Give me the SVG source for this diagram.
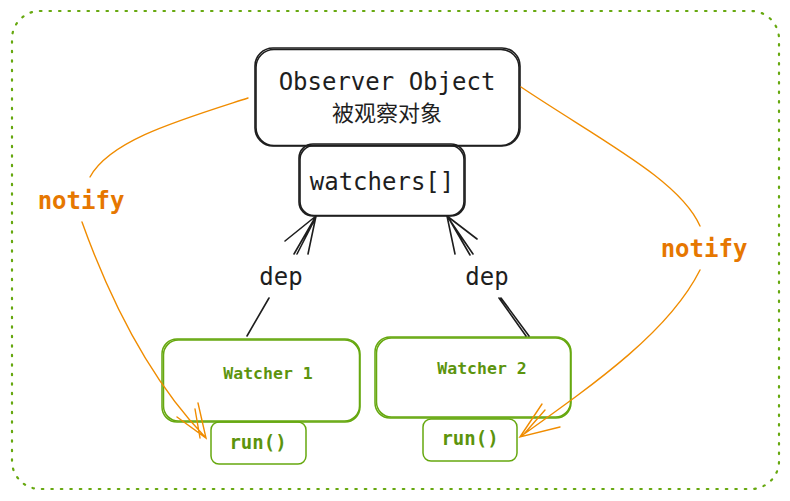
<svg xmlns="http://www.w3.org/2000/svg" width="790" height="501" viewBox="0 0 790 501">
<style>
.blk{fill:none;stroke:#1e1e1e;stroke-width:1.6;stroke-linecap:round;stroke-linejoin:round}
.grn{fill:none;stroke:#66a80f;stroke-width:1.5;stroke-linecap:round}
.org{fill:none;stroke:#f08c00;stroke-width:1.4;stroke-linecap:round}
.mono{font-family:"DejaVu Sans Mono","Liberation Mono",monospace}
.t{fill:#1e1e1e;font-size:24px;text-anchor:middle}
.gt{fill:#5c940d;font-weight:bold;text-anchor:middle}
.ot{fill:#e67700;font-size:24px;font-weight:bold;text-anchor:middle}
</style>
<rect width="790" height="501" fill="#ffffff"/>
<g id="frame">
<rect x="12" y="11" width="767" height="478" rx="28" fill="none" stroke="#66a80f" stroke-width="2.2" stroke-dasharray="1.5 8" stroke-linecap="round"/>
</g>
<g id="observer">
<rect class="blk" x="255" y="48" width="265" height="98" rx="18"/>
<rect class="blk" x="256" y="49.5" width="263" height="96" rx="18" stroke-width="0.8"/>
<text class="t mono" x="387" y="90">Observer Object</text>
<text class="t" x="387" y="121" style="font-family:'Noto Sans CJK SC','Noto Sans',sans-serif;font-size:22px">被观察对象</text>
</g>
<g id="watchers">
<rect class="blk" x="299" y="144" width="166" height="72" rx="14"/>
<rect class="blk" x="300" y="145.5" width="164" height="70" rx="14" stroke-width="0.8"/>
<text class="t mono" x="382" y="190">watchers[]</text>
</g>
<g id="watcher1">
<rect class="grn" x="162" y="339" width="198" height="83" rx="15"/>
<rect class="grn" x="163.5" y="340" width="196" height="81" rx="15" stroke-width="0.8"/>
<text class="gt mono" x="268" y="379" font-size="16.5">Watcher 1</text>
</g>
<g id="watcher2">
<rect class="grn" x="375" y="337" width="196" height="81" rx="15"/>
<rect class="grn" x="376.5" y="338" width="194" height="79" rx="15" stroke-width="0.8"/>
<text class="gt mono" x="482" y="374" font-size="16.5">Watcher 2</text>
</g>
<g id="run1">
<rect class="grn" x="211" y="422" width="95" height="42" rx="8"/>
<text class="gt mono" x="258" y="449" font-size="19">run()</text>
</g>
<g id="run2">
<rect class="grn" x="423" y="419" width="94" height="42" rx="8"/>
<text class="gt mono" x="470" y="445" font-size="19">run()</text>
</g>
<g id="connectors">
<path class="blk" d="M247 336 L269 298"/>
<path class="blk" d="M294 254 L316 216 M285 241 L316 216 L308 254 M297 254 L316 217"/>
<text class="t mono" x="281" y="285">dep</text>
<path class="blk" d="M529 336 L501 298 M526 336 L499 298" stroke-width="1.2"/>
<path class="blk" d="M473 254 L447 216 M455 254 L447 216 L477 239 M470 255 L448 217"/>
<text class="t mono" x="487" y="285">dep</text>
<path class="org" d="M248 98 C180 120 110 140 90 177" stroke-width="1.8"/>
<text class="ot mono" x="81" y="209">notify</text>
<path class="org" d="M82 222 C110 300 150 380 206 438 M177 417 L206 438 L198 403 M200 438 L195 409"/>
<path class="org" d="M521 87 C600 140 680 180 700 226" stroke-width="1.8"/>
<text class="ot mono" x="704" y="257">notify</text>
<path class="org" d="M700 270 C670 330 600 380 520 437 M542 404 L520 437 L560 427 M545 410 L524 434"/>
</g>
</svg>
